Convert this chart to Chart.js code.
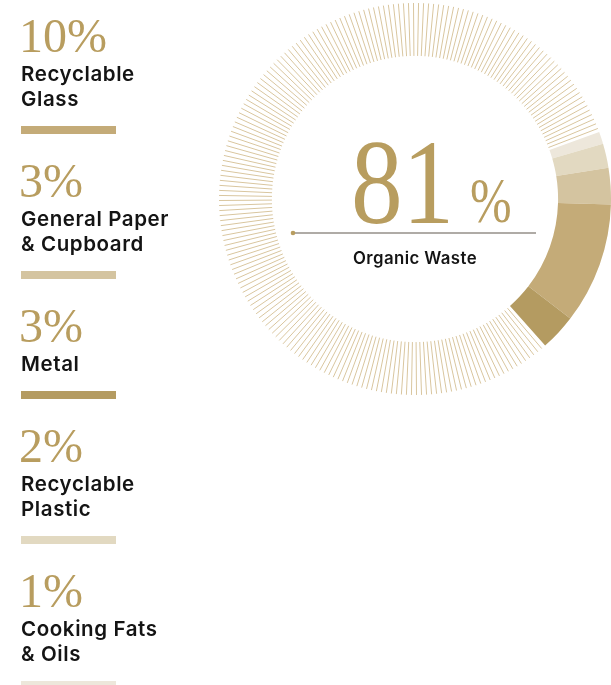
<!DOCTYPE html>
<html>
<head>
<meta charset="utf-8">
<script src="https://cdn.jsdelivr.net/npm/chart.js@4.4.1/dist/chart.umd.min.js"></script>
<style>
  html, body { margin: 0; padding: 0; background: #fff; }
  #wrap { position: relative; width: 611px; height: 685px; }
</style>
</head>
<body>
<div id="wrap"><canvas id="waste"></canvas></div>
<script>
/* waste breakdown, legend order (left column) */
const categories = ['Recyclable Glass', 'General Paper & Cupboard', 'Metal', 'Recyclable Plastic', 'Cooking Fats & Oils', 'Organic Waste'];
const labelLines = [['Recyclable', 'Glass'], ['General Paper', '& Cupboard'], ['Metal'], ['Recyclable', 'Plastic'], ['Cooking Fats', '& Oils']];
const percents = [10, 3, 3, 2, 1, 81];
const colors = ['#c4ab78', '#d4c4a0', '#b49b61', '#e2d9c1', '#ede7db', 'rgba(0,0,0,0)'];
/* order the slices go round the ring, clockwise from the top right */
const ringOrder = [4, 3, 1, 0, 2, 5];

const gold = '#b89d5f';
const hatchColor = '#d9c69f';
const ink = '#141414';

/* organic waste is drawn as thin radial strokes instead of a fill */
const hatchPlugin = {
  id: 'hatch',
  afterDatasetsDraw(chart) {
    const arc = chart.getDatasetMeta(0).data[ringOrder.indexOf(5)];
    const p = arc.getProps(['x', 'y', 'startAngle', 'endAngle', 'innerRadius', 'outerRadius'], true);
    const ctx = chart.ctx;
    const step = Math.PI / 122;
    ctx.save();
    ctx.strokeStyle = hatchColor;
    ctx.lineWidth = 1;
    for (let a = p.startAngle + step * 0.9; a < p.endAngle - step * 0.4; a += step) {
      const c = Math.cos(a), s = Math.sin(a);
      ctx.beginPath();
      ctx.moveTo(p.x + c * p.innerRadius, p.y + s * p.innerRadius);
      ctx.lineTo(p.x + c * p.outerRadius, p.y + s * p.outerRadius);
      ctx.stroke();
    }
    ctx.restore();
  }
};

/* big number in the middle + legend column on the left */
const textPlugin = {
  id: 'texts',
  afterDraw(chart) {
    const ctx = chart.ctx;
    const arc = chart.getDatasetMeta(0).data[0];
    const cx = arc.x, cy = arc.y;
    const big = percents[5];
    ctx.save();

    // centre figure
    ctx.fillStyle = gold;
    ctx.textBaseline = 'alphabetic';
    ctx.textAlign = 'left';
    ctx.save();
    ctx.translate(cx - 64, cy + 24);
    ctx.scale(0.86, 1);
    ctx.font = '120px "Liberation Serif"';
    ctx.fillText(String(big), 0, 0);
    ctx.restore();
    ctx.save();
    ctx.translate(cx + 55, cy + 23);
    ctx.scale(0.78, 1);
    ctx.font = '64px "Liberation Serif"';
    ctx.fillText('%', 0, 0);
    ctx.restore();

    ctx.strokeStyle = '#948f88';
    ctx.lineWidth = 1.3;
    ctx.beginPath();
    ctx.moveTo(cx - 122, cy + 34);
    ctx.lineTo(cx + 121, cy + 34);
    ctx.stroke();
    ctx.fillStyle = gold;
    ctx.beginPath();
    ctx.arc(cx - 122, cy + 34, 2.3, 0, Math.PI * 2);
    ctx.fill();

    ctx.fillStyle = ink;
    ctx.textAlign = 'center';
    ctx.font = '600 16.8px Inter';
    ctx.letterSpacing = '0.4px';
    ctx.fillText(categories[5], cx, cy + 65);

    // legend
    ctx.textAlign = 'left';
    let y = 52;
    for (let i = 0; i < 5; i++) {
      ctx.fillStyle = gold;
      ctx.letterSpacing = '0px';
      ctx.font = '48px "Liberation Serif"';
      ctx.fillText(percents[i] + '%', 19, y);
      ctx.fillStyle = ink;
      ctx.font = '600 20.5px Inter';
      ctx.letterSpacing = '0.6px';
      let ly = y + 29;
      labelLines[i].forEach((t, k) => {
        ctx.fillText(t, 21, ly + k * 25);
      });
      const barTop = ly + (labelLines[i].length - 1) * 25 + 20;
      ctx.fillStyle = colors[i];
      ctx.fillRect(21, barTop, 95, 8);
      y = barTop + 8 + 63;
    }
    ctx.restore();
  }
};

const data = {
  labels: ringOrder.map(i => categories[i]),
  datasets: [{
    data: ringOrder.map(i => percents[i]),
    backgroundColor: ringOrder.map(i => colors[i]),
    borderWidth: 0,
    hoverOffset: 0
  }]
};

new Chart(document.getElementById('waste'), {
  type: 'doughnut',
  data: data,
  options: {
    responsive: true,
    maintainAspectRatio: false,
    animation: false,
    rotation: 70,
    cutout: '73%',
    layout: { padding: { left: 219, top: 3, right: 0, bottom: 290 } },
    plugins: { legend: { display: false }, tooltip: { enabled: false } },
    events: []
  },
  plugins: [hatchPlugin, textPlugin]
});
</script>
</body>
</html>
